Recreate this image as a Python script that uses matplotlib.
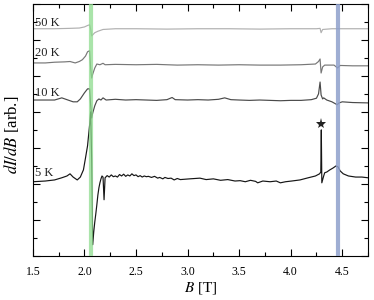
import matplotlib
matplotlib.use("Agg")
import matplotlib.pyplot as plt
from matplotlib.ticker import MultipleLocator, NullFormatter

plt.rcParams['font.family'] = ['Liberation Serif', 'DejaVu Serif']
plt.rcParams['mathtext.fontset'] = 'stix'

# field values (T) and dI/dB traces (arb., already offset)
b_50k = [1.50, 1.70, 1.85, 1.95, 2.00, 2.03, 2.05, 2.06, 2.07, 2.08, 2.10, 2.13, 2.18, 2.30,
         2.50, 2.80, 3.10, 3.40, 3.70, 4.00, 4.25, 4.285, 4.295, 4.31, 4.40, 4.60, 4.75]
y_50k = [6.31, 6.31, 6.32, 6.33, 6.36, 6.40, 6.42, 6.30, 6.11, 6.14, 6.20, 6.24, 6.29, 6.31,
         6.31, 6.30, 6.31, 6.31, 6.30, 6.31, 6.31, 6.32, 6.20, 6.29, 6.31, 6.31, 6.31]

b_20k = [1.50, 1.62, 1.71, 1.81, 1.86, 1.91, 1.95, 1.98, 2.01, 2.03, 2.05, 2.06, 2.07, 2.08,
         2.10, 2.12, 2.15, 2.18, 2.20, 2.30, 2.50, 2.70, 2.90, 3.10, 3.30, 3.50, 3.70, 3.90,
         4.10, 4.24, 4.27, 4.285, 4.295, 4.31, 4.33, 4.42, 4.455, 4.48, 4.60, 4.75]
y_20k = [5.36, 5.36, 5.38, 5.39, 5.40, 5.36, 5.40, 5.45, 5.55, 5.67, 5.70, 5.20, 4.94, 5.05,
         5.22, 5.33, 5.31, 5.35, 5.31, 5.32, 5.31, 5.32, 5.30, 5.31, 5.30, 5.31, 5.30, 5.30,
         5.31, 5.33, 5.40, 5.47, 5.08, 5.25, 5.30, 5.30, 5.22, 5.29, 5.28, 5.28]

b_10k = [1.50, 1.62, 1.71, 1.78, 1.84, 1.89, 1.93, 1.96, 2.00, 2.03, 2.05, 2.06, 2.07, 2.08,
         2.10, 2.12, 2.14, 2.16, 2.18, 2.21, 2.30, 2.40, 2.50, 2.60, 2.70, 2.80, 2.85, 2.88,
         3.00, 3.10, 3.20, 3.30, 3.36, 3.42, 3.50, 3.60, 3.70, 3.80, 3.90, 4.00, 4.10, 4.20,
         4.25, 4.27, 4.285, 4.295, 4.31, 4.32, 4.35, 4.40, 4.45, 4.47, 4.50, 4.60, 4.75]
y_10k = [4.33, 4.33, 4.33, 4.39, 4.33, 4.28, 4.28, 4.36, 4.53, 4.64, 4.64, 4.19, 3.83, 3.97,
         4.17, 4.31, 4.36, 4.33, 4.39, 4.33, 4.35, 4.33, 4.34, 4.33, 4.32, 4.34, 4.40, 4.34,
         4.33, 4.34, 4.33, 4.35, 4.39, 4.34, 4.33, 4.32, 4.33, 4.32, 4.31, 4.32, 4.32, 4.34,
         4.38, 4.50, 4.83, 4.47, 4.36, 4.39, 4.33, 4.28, 4.20, 4.25, 4.28, 4.26, 4.25]

b_5k = [1.50, 1.62, 1.71, 1.78, 1.83, 1.86, 1.89, 1.93, 1.96, 1.99, 2.01, 2.03, 2.05, 2.06,
        2.07, 2.08, 2.09, 2.10, 2.11, 2.12, 2.13, 2.14, 2.15, 2.16, 2.17, 2.18, 2.19, 2.20,
        2.22, 2.24, 2.26, 2.28, 2.30, 2.32, 2.34, 2.36, 2.38, 2.40, 2.42, 2.44, 2.46, 2.48,
        2.50, 2.52, 2.54, 2.56, 2.58, 2.60, 2.62, 2.65, 2.68, 2.71, 2.73, 2.76, 2.78, 2.81,
        2.84, 2.87, 2.90, 2.93, 3.02, 3.12, 3.18, 3.25, 3.32, 3.39, 3.46, 3.51, 3.56, 3.61,
        3.66, 3.68, 3.73, 3.80, 3.86, 3.90, 3.95, 4.01, 4.09, 4.17, 4.24, 4.28, 4.292, 4.297,
        4.302, 4.32, 4.33, 4.35, 4.38, 4.41, 4.44, 4.46, 4.48, 4.51, 4.56, 4.63, 4.69, 4.75]
y_5k = [2.06, 2.08, 2.11, 2.17, 2.22, 2.28, 2.19, 2.11, 2.19, 2.39, 2.72, 3.06, 3.64, 4.00,
        2.67, 0.31, 0.67, 0.94, 1.17, 1.42, 1.69, 1.89, 2.03, 2.14, 2.22, 2.19, 1.56, 2.17,
        2.23, 2.19, 2.25, 2.20, 2.22, 2.19, 2.26, 2.22, 2.27, 2.21, 2.25, 2.22, 2.28, 2.23,
        2.25, 2.20, 2.23, 2.19, 2.22, 2.20, 2.21, 2.18, 2.21, 2.16, 2.18, 2.14, 2.18, 2.15,
        2.16, 2.11, 2.15, 2.12, 2.14, 2.16, 2.12, 2.14, 2.10, 2.12, 2.08, 2.09, 2.06, 2.10,
        2.07, 2.03, 2.08, 2.06, 2.08, 2.03, 2.06, 2.08, 2.11, 2.17, 2.22, 2.28, 2.33, 3.50,
        2.03, 2.22, 2.31, 2.33, 2.39, 2.44, 2.50, 2.47, 2.36, 2.28, 2.22, 2.19, 2.19, 2.17]

traces = [
    ("50 K", b_50k, y_50k, "#b0b0b0", 6.47),
    ("20 K", b_20k, y_20k, "#777777", 5.64),
    ("10 K", b_10k, y_10k, "#4a4a4a", 4.53),
    ("5 K", b_5k, y_5k, "#151515", 2.31),
]

green_field = 2.06
blue_field = 4.46
star_b, star_y = 4.297, 3.67

fig = plt.figure(figsize=(3.74, 3.0), dpi=100)
ax = fig.add_axes([0.088, 0.147, 0.896, 0.84])

for label, b, y, color, ylab in traces:
    ax.plot(b, y, color=color, lw=0.85)
    ax.text(1.52, ylab, label, color="#222222", fontsize=9, va="center", ha="left")

ax.axvline(green_field, color="#8edc8e", lw=3.0, alpha=0.75, zorder=5)
ax.axvline(blue_field, color="#8ea0cc", lw=3.0, alpha=0.85, zorder=5)
ax.plot(star_b, star_y, marker="*", color="#222222", ms=8, mew=0)

ax.set_xlim(1.5, 4.75)
ax.set_ylim(0, 7)
ax.xaxis.set_major_locator(MultipleLocator(0.5))
ax.xaxis.set_minor_locator(MultipleLocator(0.25))
ax.yaxis.set_major_locator(MultipleLocator(1))
ax.yaxis.set_minor_locator(MultipleLocator(0.5))
ax.yaxis.set_major_formatter(NullFormatter())
ax.tick_params(which="both", direction="in", top=True, right=True, labelsize=8.5)
ax.tick_params(which="major", length=5, width=0.8, pad=7)
ax.tick_params(which="minor", length=3, width=0.8)
ax.set_xlabel(r"$B$ [T]", fontsize=11, labelpad=2)
ax.set_ylabel(r"$dI/dB$ [arb.]", fontsize=12)
ax.yaxis.set_label_coords(-0.036, 0.48)

fig.savefig("out.png", dpi=100)
